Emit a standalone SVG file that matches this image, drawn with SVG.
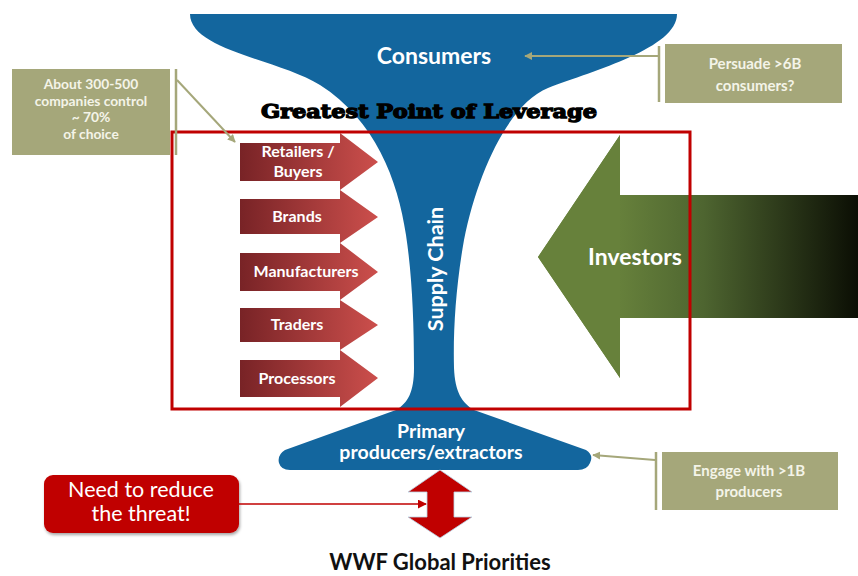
<svg xmlns="http://www.w3.org/2000/svg" width="858" height="576" viewBox="0 0 858 576">
<defs>
<linearGradient id="redGrad" x1="0" y1="0" x2="1" y2="0">
<stop offset="0" stop-color="#782326"/>
<stop offset="1" stop-color="#cc4f4c"/>
</linearGradient>
<linearGradient id="greenGrad" gradientUnits="userSpaceOnUse" x1="620" y1="0" x2="858" y2="0">
<stop offset="0" stop-color="#66803b"/>
<stop offset="0.35" stop-color="#4e6530"/>
<stop offset="1" stop-color="#0b0e04"/>
</linearGradient>
<marker id="olv" viewBox="0 0 10 10" refX="9" refY="5" markerWidth="4" markerHeight="4" orient="auto" markerUnits="strokeWidth">
<path d="M0,0 L10,5 L0,10 Z" fill="#a5a77a"/>
</marker>
<marker id="redm" viewBox="0 0 10 10" refX="9" refY="5" markerWidth="6" markerHeight="6" orient="auto" markerUnits="strokeWidth">
<path d="M0,0 L10,5 L0,10 Z" fill="#c00000"/>
</marker>
<filter id="sh" x="-10%" y="-10%" width="130%" height="140%">
<feDropShadow dx="1" dy="2" stdDeviation="1.5" flood-color="#000" flood-opacity="0.35"/>
</filter>
</defs>
<style>
.olive{fill:#a5a77a}
.otxt{font-family:Lato,"Open Sans",sans-serif;font-weight:bold;font-size:15px;fill:#f4f4e8;text-anchor:middle}
.ctxt{font-family:Lato,"Open Sans",sans-serif;font-weight:bold;font-size:13.8px;fill:#f4f4e8;text-anchor:middle}
.wtxt{font-family:Lato,"Open Sans",sans-serif;font-weight:bold;fill:#ffffff;text-anchor:middle}
.rtxt{font-family:Lato,"Open Sans",sans-serif;font-weight:bold;font-size:16px;fill:#ffffff;text-anchor:middle}
.conn{stroke:#a5a77a;stroke-width:2;fill:none}
.vbar{stroke:#a5a77a;stroke-width:2.5}
</style>

<g id="funnel">
<path fill="#13669e" d="M190,14 L677,14 C677,48 595,70 548,88 C510,103 478,170 464,240 C456,285 453,330 454,368 C455,392 462,403 474,410 L586,450 Q594,455 590,463 Q587,470 578,470 L290,470 Q281,470 279,463 Q277,455 285,450 L396,410 C408,403 414,392 414,368 C414,320 412,275 406,235 C398,180 375,120 320,85 C280,60 190,50 190,14 Z"/>
<text class="wtxt" x="434" y="64" font-size="23">Consumers</text>
<text class="wtxt" font-size="21.5" transform="translate(443,269) rotate(-90)">Supply Chain</text>
<text class="wtxt" x="431" y="438" font-size="19.5">Primary</text>
<text class="wtxt" x="431" y="459" font-size="19.5">producers/extractors</text>
</g>

<g id="leverage-title">
<text x="429" y="118" font-family="'DejaVu Serif',serif" font-weight="900" font-size="19" fill="#000" stroke="#000" stroke-width="1.3" text-anchor="middle" textLength="336" lengthAdjust="spacingAndGlyphs">Greatest Point of Leverage</text>
</g>

<g id="retailers">
<path fill="url(#redGrad)" d="M240,143 L340,143 L340,133 L378,162 L340,190 L340,181 L240,181 Z"/>
<text class="rtxt" x="298" y="157">Retailers /</text>
<text class="rtxt" x="298" y="177">Buyers</text>
</g>
<g id="brands">
<path fill="url(#redGrad)" d="M240,199 L340,199 L340,190 L378,217 L340,243 L340,234 L240,234 Z"/>
<text class="rtxt" x="297" y="222">Brands</text>
</g>
<g id="manufacturers">
<path fill="url(#redGrad)" d="M240,253 L340,253 L340,243 L378,272 L340,300 L340,291 L240,291 Z"/>
<text class="rtxt" x="306" y="277">Manufacturers</text>
</g>
<g id="traders">
<path fill="url(#redGrad)" d="M240,308 L340,308 L340,300 L378,325 L340,350 L340,342 L240,342 Z"/>
<text class="rtxt" x="297" y="330">Traders</text>
</g>
<g id="processors">
<path fill="url(#redGrad)" d="M240,360 L340,360 L340,350 L378,378 L340,407 L340,397 L240,397 Z"/>
<text class="rtxt" x="297" y="384">Processors</text>
</g>

<g id="investors">
<path fill="url(#greenGrad)" d="M538,257 L620,135 L620,195 L858,195 L858,318 L620,318 L620,378 Z"/>
<path fill="#67813b" d="M538,257 L620,135 L620,378 Z"/>
<text class="wtxt" x="635" y="265" font-size="23">Investors</text>
</g>

<g id="focus-box">
<rect x="172" y="132" width="518" height="277" fill="none" stroke="#c00000" stroke-width="3"/>
</g>

<g id="companies-note">
<rect class="olive" x="12" y="69" width="158" height="86"/>
<line class="vbar" x1="176" y1="69" x2="176" y2="155"/>
<text class="ctxt" x="91" y="89">About 300-500</text>
<text class="ctxt" x="91" y="105.5">companies control</text>
<text class="ctxt" x="91" y="122">~ 70%</text>
<text class="ctxt" x="91" y="138.5">of choice</text>
</g>

<g id="persuade-note">
<rect class="olive" x="665" y="44" width="177" height="59"/>
<line class="vbar" x1="659" y1="46" x2="659" y2="102"/>
<text class="otxt" x="755" y="69" font-size="18">Persuade &gt;6B</text>
<text class="otxt" x="755" y="91" font-size="18">consumers?</text>
</g>

<g id="engage-note">
<rect class="olive" x="662" y="452" width="176" height="58"/>
<line class="vbar" x1="656" y1="452" x2="656" y2="510"/>
<text class="otxt" x="749" y="476" font-size="17.5">Engage with &gt;1B</text>
<text class="otxt" x="749" y="497" font-size="17.5">producers</text>
</g>

<g id="threat-note">
<rect x="44" y="475" width="195" height="58" rx="9" fill="#c00000" filter="url(#sh)"/>
<text x="141" y="497" font-family="Lato,'Open Sans',sans-serif" font-size="21.5" fill="#fff" text-anchor="middle">Need to reduce</text>
<text x="141" y="521" font-family="Lato,'Open Sans',sans-serif" font-size="21.5" fill="#fff" text-anchor="middle">the threat!</text>
</g>

<g id="double-arrow">
<path fill="#c00000" stroke="#b8d4e6" stroke-width="0.8" d="M440,470 L472,492 L454,492 L454,517 L472,517 L440,538 L408,517 L427,517 L427,492 L408,492 Z"/>
</g>

<g id="wwf-title">
<text x="440" y="570" font-family="Lato,'Open Sans',sans-serif" font-weight="bold" font-size="22" fill="#111" text-anchor="middle">WWF Global Priorities</text>
</g>

<g id="connectors">
<path class="conn" d="M659,56 L525,56" marker-end="url(#olv)"/>
<path class="conn" d="M177,80 L235,142" marker-end="url(#olv)"/>
<path class="conn" d="M655,460 L593,455" marker-end="url(#olv)"/>
<path d="M239,504 L426,504" stroke="#c00000" stroke-width="1.5" fill="none" marker-end="url(#redm)"/>
</g>
</svg>
